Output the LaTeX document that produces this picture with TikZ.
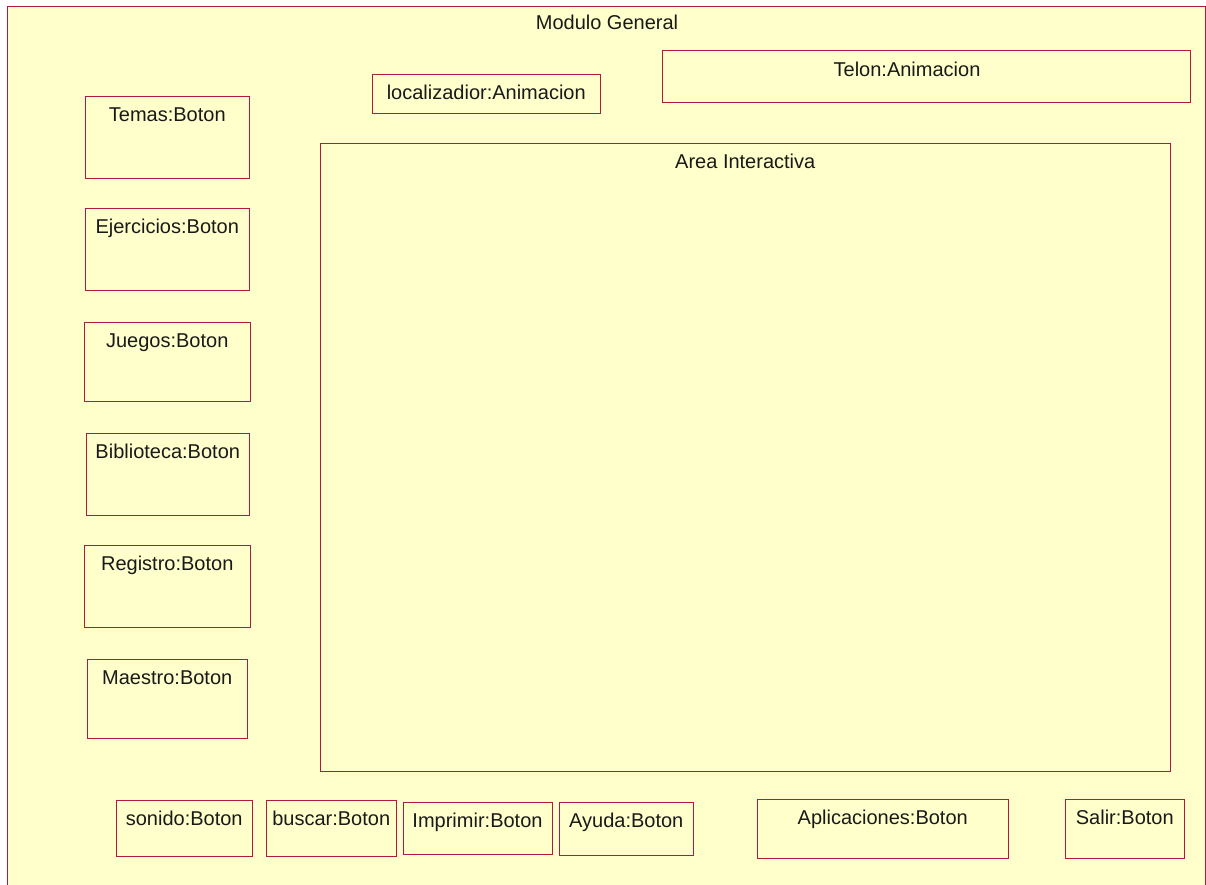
\documentclass[tikz,border=0pt]{standalone}
\usepackage{fontspec}
\setmainfont{Liberation Sans}
\definecolor{frameline}{RGB}{176,24,72}
\definecolor{panelfill}{RGB}{255,255,204}
\tikzset{
  part/.style={draw=frameline, line width=1pt},
  lbl/.style={anchor=base, inner sep=0pt, font=\fontsize{20}{24}\selectfont, text=black!90},
}
% box with its caption on a baseline 25 units under the top edge
\newcommand{\uibox}[6]{%
  \draw[part] (#2,#3) rectangle (#4,#5);
  \node[lbl] (#1) at ({(#2+#4)/2},#3+25) {#6};
}
\begin{document}
\begin{tikzpicture}[x=1pt,y=-1pt]
  \useasboundingbox (0,0) rectangle (1206,884);
  \clip (0,0) rectangle (1206,884);
  \fill[white] (0,0) rectangle (1206,884);
  % main frame
  \draw[part, fill=panelfill] (7.5,6.5) rectangle (1205.5,900);
  \node[lbl] (general) at (607,29) {Modulo General};
  % top animations
  \uibox{localizador}{372.5}{74.5}{600}{113}{localizadior:Animacion}
  \draw[part] (662.5,50.5) rectangle (1190,102.5);
  \node[lbl] (telon) at (907,76) {Telon:Animacion};
  % interactive area
  \uibox{area}{320.5}{143}{1170}{771}{Area Interactiva}
  % left column of buttons
  \uibox{temas}{85.5}{96.5}{249}{178}{Temas:Boton}
  \uibox{ejercicios}{85.5}{208.5}{249}{290}{Ejercicios:Boton}
  \uibox{juegos}{84.5}{322.5}{250}{401}{Juegos:Boton}
  \uibox{biblioteca}{86.5}{433.5}{249}{515}{Biblioteca:Boton}
  \uibox{registro}{84.5}{545.5}{250}{627}{Registro:Boton}
  \uibox{maestro}{87.5}{659.5}{247}{738}{Maestro:Boton}
  % bottom row of buttons
  \uibox{sonido}{116.5}{800.5}{252}{856}{sonido:Boton}
  \uibox{buscar}{266.5}{800.5}{396}{856}{buscar:Boton}
  \uibox{imprimir}{403}{802.5}{552}{854.5}{Imprimir:Boton}
  \uibox{ayuda}{559.5}{802}{693}{855}{Ayuda:Boton}
  \uibox{aplicaciones}{757.5}{799.5}{1008}{858}{Aplicaciones:Boton}
  \uibox{salir}{1065.5}{799.5}{1184}{858}{Salir:Boton}
\end{tikzpicture}
\end{document}
